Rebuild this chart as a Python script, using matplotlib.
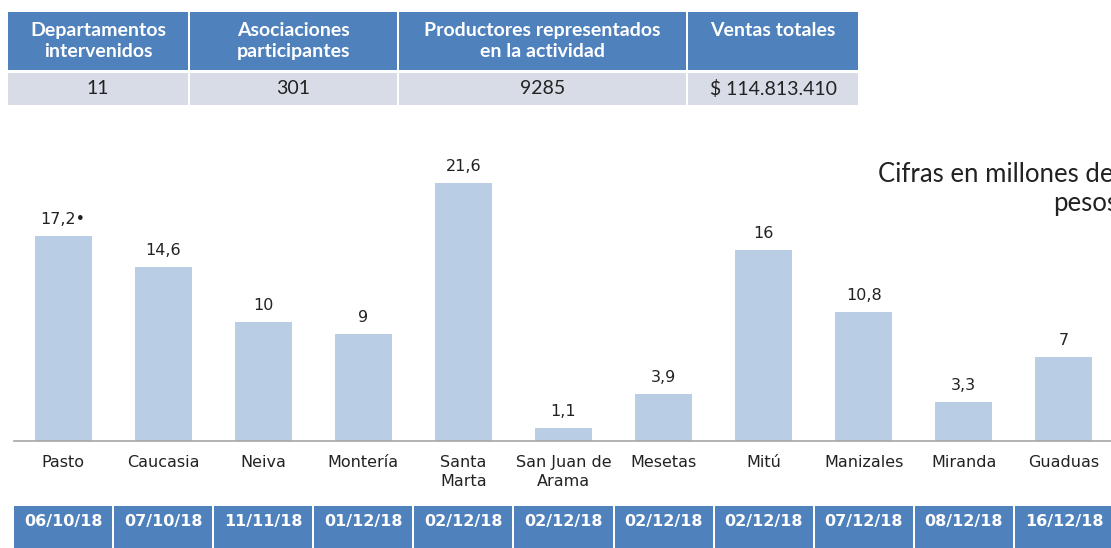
import matplotlib.pyplot as plt
from matplotlib.patches import Rectangle

# summary table
table_headers = ["Departamentos\nintervenidos", "Asociaciones\nparticipantes",
                 "Productores representados\nen la actividad", "Ventas totales"]
table_values = ["11", "301", "9285", "$ 114.813.410"]

# bar chart
cities = ["Pasto", "Caucasia", "Neiva", "Montería", "Santa\nMarta", "San Juan de\nArama",
          "Mesetas", "Mitú", "Manizales", "Miranda", "Guaduas"]
sales = [17.2, 14.6, 10, 9, 21.6, 1.1, 3.9, 16, 10.8, 3.3, 7]
sales_labels = ["17,2•", "14,6", "10", "9", "21,6", "1,1", "3,9", "16", "10,8", "3,3", "7"]
dates = ["06/10/18", "07/10/18", "11/11/18", "01/12/18", "02/12/18", "02/12/18",
         "02/12/18", "02/12/18", "07/12/18", "08/12/18", "16/12/18"]

W, H = 1111, 548
fig = plt.figure(figsize=(W / 100, H / 100), dpi=100)


def px_axes(x0, y0, x1, y1):
    # pixel box (top-left origin) -> figure axes
    return fig.add_axes([x0 / W, 1 - y1 / H, (x1 - x0) / W, (y1 - y0) / H])


# ---- table at the top (drawn in pixel coords)
tab = px_axes(0, 0, W, 120)
tab.set_xlim(0, W)
tab.set_ylim(120, 0)
tab.axis("off")
col_edges = [8, 190, 399, 688, 860]
blue = "#4F81BD"
for i in range(4):
    x0, x1 = col_edges[i], col_edges[i + 1]
    tab.add_patch(Rectangle((x0, 12), x1 - x0 - 2, 58, facecolor=blue, edgecolor="none"))
    tab.add_patch(Rectangle((x0, 73), x1 - x0 - 2, 32, facecolor="#D7DCE7", edgecolor="none"))
    xc = (x0 + x1 - 2) / 2
    tab.text(xc, 41 if "\n" in table_headers[i] else 30, table_headers[i], ha="center", va="center",
             color="white", fontweight="bold", fontsize=14, family="Lato", linespacing=1.35)
    tab.text(xc, 89, table_values[i], ha="center", va="center", color="#222222",
             fontsize=14, family="Lato")

# ---- bar chart
x = list(range(len(cities)))
ax = px_axes(14, 150, W, 441)
ax.bar(x, sales, width=0.57, color="#B9CDE5")
ax.set_xlim(-0.49, 10.47)
ax.set_ylim(0, 291 / 11.94)
for xi, v, lab in zip(x, sales, sales_labels):
    ax.text(xi, v + 0.75, lab, ha="center", va="bottom", fontsize=11.5, color="#222222")
ax.set_xticks(x)
ax.set_xticklabels(cities, fontsize=11.5, color="#222222", linespacing=1.35, va="top")
ax.tick_params(axis="x", length=0, pad=10)
ax.set_yticks([])
for s in ["top", "right", "left"]:
    ax.spines[s].set_visible(False)
ax.spines["bottom"].set_color("#A6A6A6")
ax.spines["bottom"].set_linewidth(1.2)

fig.text(878 / W, 1 - 175 / H, "Cifras en millones de", fontsize=18.5, family="Lato",
         color="#222222", va="center", ha="left")
fig.text(1053 / W, 1 - 204 / H, "pesos", fontsize=18.5, family="Lato",
         color="#222222", va="center", ha="left")

# ---- date row
dx = px_axes(14, 506, W, 548)
dx.bar(x, [1] * len(x), width=0.98, color=blue, edgecolor="none")
dx.set_xlim(-0.49, 10.47)
dx.set_ylim(0, 1)
dx.axis("off")
for xi, d in zip(x, dates):
    dx.text(xi, 0.62, d, ha="center", va="center", color="white", fontweight="bold", fontsize=11.5)

fig.savefig("out.png", dpi=100)
